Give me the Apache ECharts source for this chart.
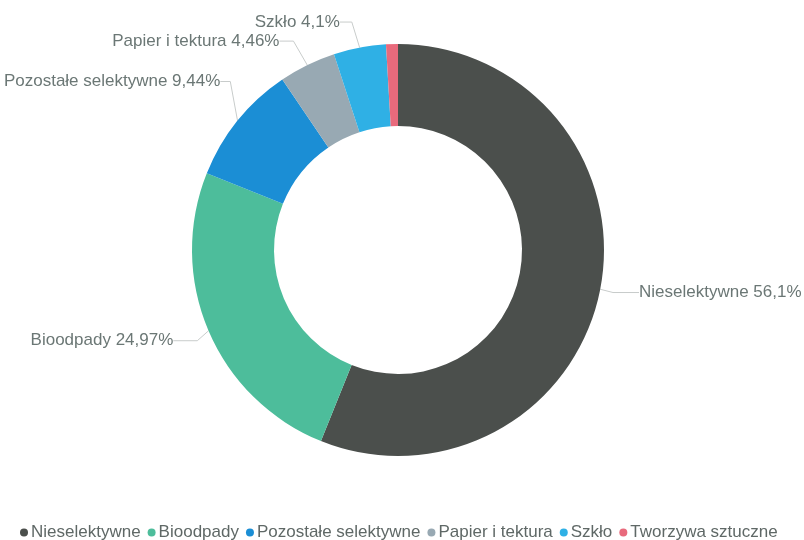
<!DOCTYPE html>
<html>
<head>
<meta charset="utf-8">
<script src="https://cdn.jsdelivr.net/npm/echarts@6/dist/echarts.min.js"></script>
<style>
  html, body { margin: 0; padding: 0; background: #fff; }
  #chart { width: 804px; height: 540px; }
</style>
</head>
<body>
<div id="chart"></div>
<script>
const categories = ['Nieselektywne', 'Bioodpady', 'Pozostałe selektywne', 'Papier i tektura', 'Szkło', 'Tworzywa sztuczne']
const values = [56.1, 24.97, 9.44, 4.46, 4.1, 0.93]
const colors = ['#4b4f4c', '#4dbd9b', '#1b8ed5', '#98a9b3', '#2fb0e5', '#e86a7c']
// labels shown beside the ring (Tworzywa has none in the original)
const labelled = [true, true, true, true, true, false]
// leader line lengths per slice
const lineLen = [12, 10, 26, 20, 26, 0]
const lineLen2 = [26, 24, 10, 14, 12, 0]
// small nudges of the label text
const labelDx = [-4, 3, 18, 0, 2, 0]
const labelDy = [1, 6, -23, -6, 0, 0]

const chart = echarts.init(document.getElementById('chart'))

chart.setOption({
  color: colors,
  legend: {
    bottom: -6,
    left: 15,
    icon: 'circle',
    itemWidth: 8,
    itemHeight: 8,
    itemGap: 7,
    textStyle: {
      color: '#5f6866',
      fontSize: 17,
      fontFamily: 'Liberation Sans',
      padding: [0, 0, 0, -2]
    },
    data: categories
  },
  series: [{
    type: 'pie',
    center: [398, 250],
    radius: [124, 206],
    startAngle: 90,
    clockwise: true,
    avoidLabelOverlap: false,
    label: {
      color: '#6b7775',
      fontSize: 17,
      fontFamily: 'Liberation Sans',
      formatter: function (p) {
        return p.name + ' ' + String(p.value).replace('.', ',') + '%'
      }
    },
    labelLine: {
      lineStyle: { color: '#c8cccb', width: 1 }
    },
    // move the text a little and let ECharts redraw the leader line to it
    labelLayout: function (p) {
      const r = p.labelRect
      return {
        x: r.x + labelDx[p.dataIndex],
        y: r.y + labelDy[p.dataIndex],
        align: 'left',
        verticalAlign: 'top'
      }
    },
    emphasis: { disabled: true },
    data: categories.map(function (name, i) {
      return {
        name: name,
        value: values[i],
        label: { show: labelled[i] },
        labelLine: { show: labelled[i], length: lineLen[i], length2: lineLen2[i] }
      }
    })
  }]
})
</script>
</body>
</html>
